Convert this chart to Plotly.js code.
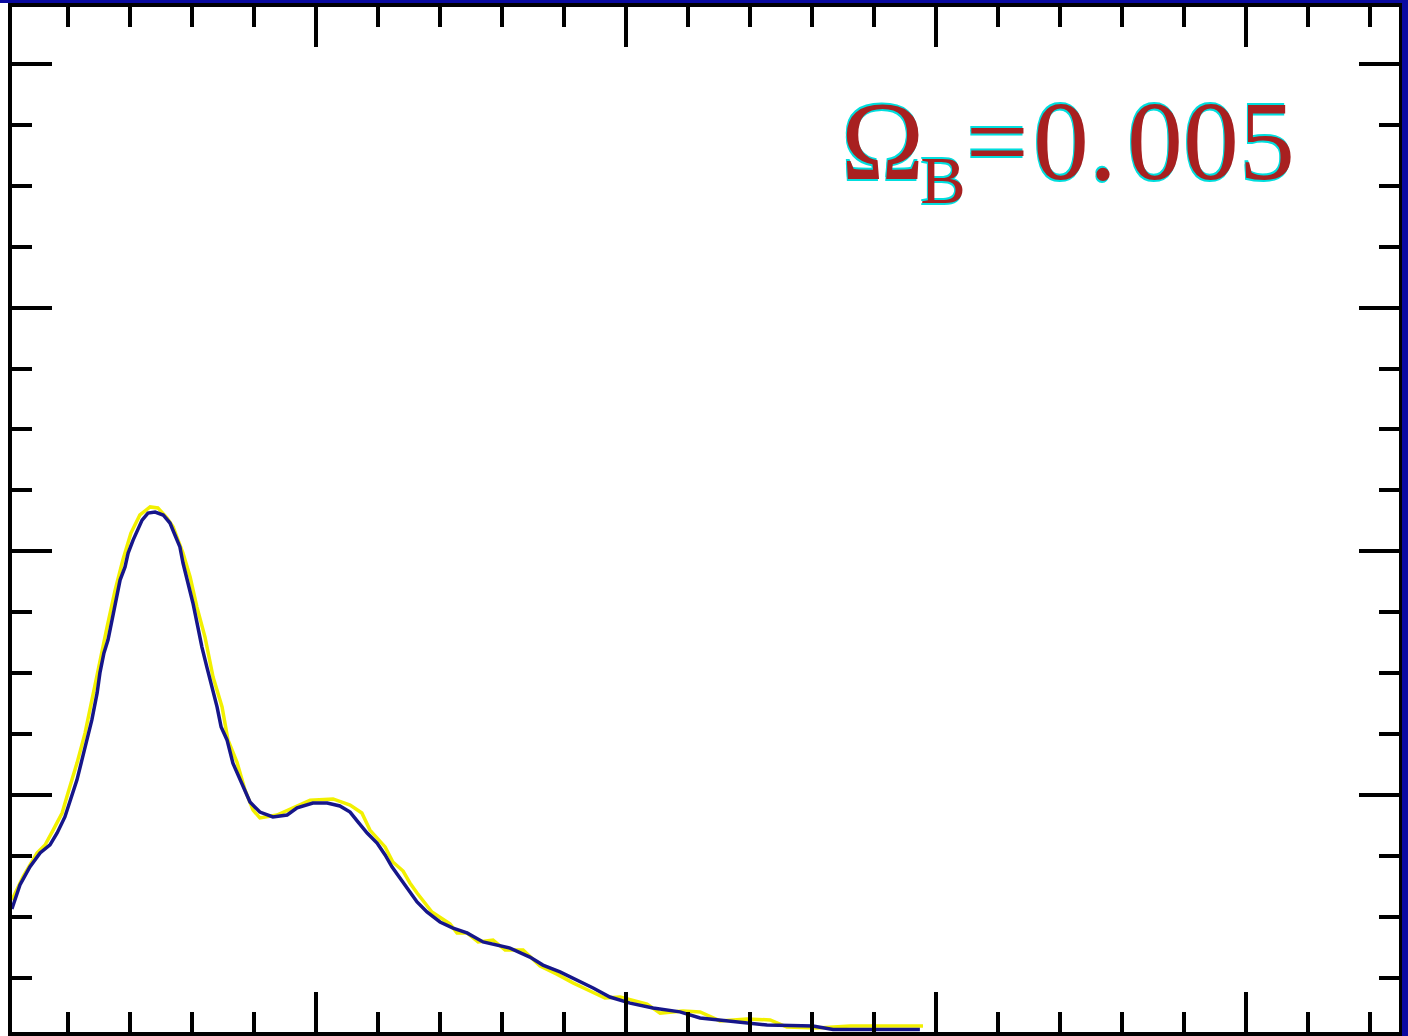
<!DOCTYPE html>
<html>
<head>
<meta charset="utf-8">
<script src="https://cdn.plot.ly/plotly-3.0.1.min.js"></script>
<style>
  html, body { margin: 0; padding: 0; background: #ffffff; overflow: hidden; }
  #frame { position: absolute; left: 0; top: 0; width: 1402px; height: 1033px;
           border-top: 3px solid #0a0aa0; border-right: 6px solid #0a0aa0; background: #ffffff; }
  #chart { width: 1402px; height: 1033px; }
</style>
</head>
<body>
<div id="frame"><div id="chart"></div></div>
<script>
// Blue series
const xBlue = [0.019,0.045,0.077,0.110,0.142,0.165,0.190,0.207,0.229,0.245,0.261,0.277,0.294,0.303,0.316,0.329,0.342,0.355,0.368,0.384,0.394,0.410,0.423,0.439,0.458,0.481,0.507,0.529,0.545,0.561,0.571,0.587,0.603,0.619,0.632,0.648,0.665,0.681,0.694,0.713,0.732,0.761,0.787,0.819,0.861,0.907,0.939,0.990,1.036,1.077,1.110,1.136,1.165,1.197,1.223,1.245,1.271,1.297,1.326,1.358,1.400,1.442,1.487,1.539,1.626,1.690,1.732,1.787,1.842,1.894,1.948,2.013,2.087,2.174,2.239,2.368,2.455,2.603,2.668,2.948];
const yBlue = [0.532,0.631,0.705,0.762,0.795,0.844,0.910,0.979,1.062,1.144,1.226,1.308,1.419,1.501,1.583,1.636,1.718,1.800,1.882,1.936,1.993,2.046,2.087,2.128,2.157,2.161,2.149,2.116,2.067,2.018,1.952,1.870,1.788,1.689,1.607,1.525,1.443,1.361,1.279,1.226,1.131,1.049,0.971,0.930,0.910,0.918,0.947,0.967,0.967,0.955,0.930,0.889,0.844,0.803,0.754,0.705,0.659,0.610,0.561,0.520,0.479,0.454,0.434,0.397,0.372,0.335,0.302,0.274,0.241,0.208,0.171,0.146,0.126,0.110,0.085,0.069,0.056,0.052,0.038,0.038];
// Yellow series
const xYellow = [0.019,0.055,0.100,0.126,0.152,0.181,0.200,0.229,0.255,0.277,0.300,0.326,0.352,0.377,0.403,0.432,0.465,0.490,0.519,0.539,0.555,0.571,0.594,0.616,0.642,0.668,0.697,0.716,0.745,0.771,0.797,0.819,0.874,0.926,0.981,1.055,1.110,1.148,1.174,1.223,1.248,1.281,1.303,1.326,1.352,1.374,1.432,1.455,1.487,1.523,1.571,1.610,1.668,1.723,1.777,1.829,1.877,1.932,1.981,2.068,2.110,2.184,2.239,2.303,2.390,2.465,2.519,2.616,2.723,2.958];
const yYellow = [0.569,0.664,0.762,0.795,0.856,0.926,1.008,1.131,1.254,1.390,1.546,1.689,1.841,1.964,2.075,2.149,2.182,2.178,2.137,2.100,2.046,1.993,1.895,1.771,1.648,1.484,1.361,1.226,1.135,1.021,0.938,0.906,0.918,0.947,0.979,0.984,0.959,0.926,0.856,0.787,0.725,0.688,0.639,0.598,0.557,0.520,0.471,0.434,0.434,0.397,0.405,0.364,0.364,0.298,0.265,0.229,0.200,0.167,0.171,0.142,0.105,0.114,0.110,0.073,0.081,0.077,0.048,0.044,0.052,0.052];

const annText = '<span style="letter-spacing:-4px">Ω</span><sub><span style="font-size:87%">B</span></sub>' +
                '<span style="letter-spacing:4px">=</span>0<span style="letter-spacing:10px">.</span>005';

const traces = [
  { x: xYellow, y: yYellow, type: 'scatter', mode: 'lines',
    line: { color: '#f2f000', width: 3.5 }, hoverinfo: 'skip', showlegend: false },
  { x: xBlue, y: yBlue, type: 'scatter', mode: 'lines',
    line: { color: '#16168a', width: 3.5 }, hoverinfo: 'skip', showlegend: false }
];

const axisCommon = {
  showline: true, linewidth: 4, linecolor: '#000000', mirror: 'allticks',
  ticks: 'inside', ticklen: 40, tickwidth: 4, tickcolor: '#000000',
  showticklabels: false, showgrid: false, zeroline: false, tick0: 0, dtick: 1,
  fixedrange: true
};

const layout = {
  width: 1402, height: 1033,
  margin: { l: 12, r: 3, t: 4, b: 4 },
  paper_bgcolor: '#ffffff', plot_bgcolor: '#ffffff',
  showlegend: false,
  xaxis: Object.assign({}, axisCommon, {
    range: [0.0194, 4.4935],
    minor: { ticks: 'inside', ticklen: 20, tickwidth: 4, tickcolor: '#000000', dtick: 0.2, tick0: 0, showgrid: false }
  }),
  yaxis: Object.assign({}, axisCommon, {
    range: [0.0275, 4.2335],
    minor: { ticks: 'inside', ticklen: 20, tickwidth: 4, tickcolor: '#000000', dtick: 0.25, tick0: 0, showgrid: false }
  }),
  annotations: [{
    xref: 'paper', yref: 'paper', x: 0.7617, y: 0.862, xanchor: 'center', yanchor: 'middle',
    showarrow: false, text: annText,
    font: { family: 'Liberation Serif, Times New Roman, serif', size: 112, color: '#a82020',
            shadow: '-1px -2px 0px #00dede, -1px 2px 0px #00dede' }
  }]
};

Plotly.newPlot('chart', traces, layout, { displayModeBar: false, staticPlot: true });
</script>
</body>
</html>
